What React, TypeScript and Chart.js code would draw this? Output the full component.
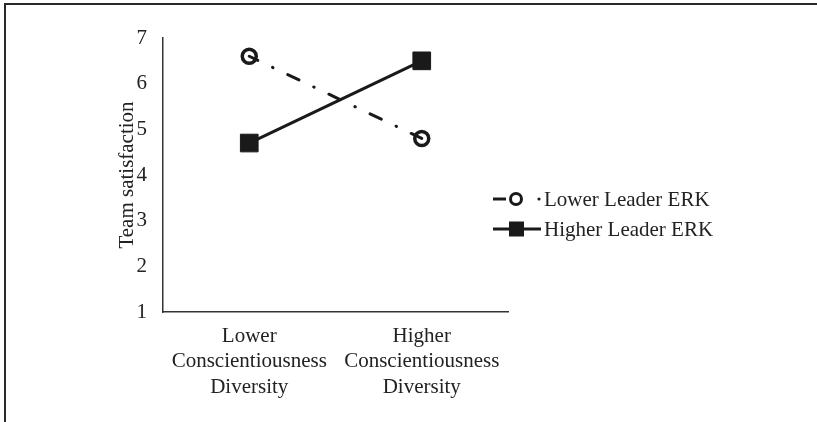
import React, { useEffect, useRef } from "react";
import { Chart, registerables } from "chart.js";

Chart.register(...registerables);

const categories: string[][] = [
  ["Lower", "Conscientiousness", "Diversity"],
  ["Higher", "Conscientiousness", "Diversity"],
];
const seriesNames: string[] = ["Lower Leader ERK", "Higher Leader ERK"];
const lowerLeaderERK: number[] = [6.6, 4.8];
const higherLeaderERK: number[] = [4.7, 6.5];
const yTickValues: number[] = [1, 2, 3, 4, 5, 6, 7];
const yAxisTitle = "Team satisfaction";

const FONT = "'Liberation Serif', 'Times New Roman', serif";
const INK = "#1a1a1a";
const TEXT = "#222222";

const legendPlugin = {
  id: "customLegend",
  afterDraw(chart: any) {
    const ctx: CanvasRenderingContext2D = chart.ctx;
    const ca = chart.chartArea;
    const x0 = ca.right - 15;
    const rows = [ca.top + 161, ca.top + 191];
    ctx.save();
    ctx.font = `21px ${FONT}`;
    ctx.textBaseline = "middle";
    ctx.textAlign = "left";
    // row 1: dash-dot with open circle
    let y = rows[0];
    ctx.strokeStyle = INK;
    ctx.lineWidth = 3;
    ctx.beginPath();
    ctx.moveTo(x0, y);
    ctx.lineTo(x0 + 13, y);
    ctx.stroke();
    ctx.beginPath();
    ctx.arc(x0 + 23, y, 5.5, 0, Math.PI * 2);
    ctx.fillStyle = "#ffffff";
    ctx.fill();
    ctx.stroke();
    ctx.fillStyle = INK;
    ctx.beginPath();
    ctx.arc(x0 + 46, y, 1.6, 0, Math.PI * 2);
    ctx.fill();
    ctx.fillStyle = TEXT;
    ctx.fillText(seriesNames[0], x0 + 51, y + 1);
    // row 2: solid with filled square
    y = rows[1];
    ctx.beginPath();
    ctx.moveTo(x0, y);
    ctx.lineTo(x0 + 48, y);
    ctx.stroke();
    ctx.fillStyle = INK;
    ctx.fillRect(x0 + 16, y - 7.5, 15, 15);
    ctx.fillStyle = TEXT;
    ctx.fillText(seriesNames[1], x0 + 51, y + 1);
    ctx.restore();
  },
};

export default function App() {
  const canvasRef = useRef<HTMLCanvasElement | null>(null);

  useEffect(() => {
    const canvas = canvasRef.current;
    if (!canvas) return;
    const chart = new Chart(canvas, {
      type: "line",
      data: {
        labels: categories as any,
        datasets: [
          {
            label: seriesNames[0],
            data: lowerLeaderERK,
            borderColor: INK,
            borderWidth: 3,
            borderCapStyle: "round",
            borderDash: [12.5, 16.3, 0.5, 16.3],
            borderDashOffset: 3,
            pointStyle: "circle",
            pointRadius: 7,
            pointBorderWidth: 3.5,
            pointBorderColor: INK,
            pointBackgroundColor: "rgba(0,0,0,0)",
            tension: 0,
            fill: false,
          },
          {
            label: seriesNames[1],
            data: higherLeaderERK,
            borderColor: INK,
            borderWidth: 3,
            pointStyle: "rect",
            pointRadius: 12.5,
            pointBorderWidth: 1,
            pointBorderColor: INK,
            pointBackgroundColor: INK,
            tension: 0,
            fill: false,
          },
        ],
      },
      options: {
        responsive: false,
        animation: false,
        layout: { padding: { left: 100, top: 38, right: 309, bottom: 0 } },
        plugins: {
          legend: { display: false },
          tooltip: { enabled: false },
        },
        scales: {
          x: {
            type: "category",
            offset: true,
            grid: { display: false, drawTicks: false },
            border: { display: true, color: "#333333", width: 1.5 },
            ticks: {
              color: TEXT,
              padding: 12,
              maxRotation: 0,
              autoSkip: false,
              font: { family: FONT, size: 21, lineHeight: 1.2 },
            },
            afterFit: (scale: any) => {
              scale.height = 110;
            },
          },
          y: {
            min: 1,
            max: 7,
            afterBuildTicks: (scale: any) => {
              scale.ticks = yTickValues.map((v) => ({ value: v }));
            },
            grid: { display: false, drawTicks: false },
            border: { display: true, color: "#333333", width: 1.5 },
            ticks: {
              color: TEXT,
              padding: 16,
              font: { family: FONT, size: 21 },
            },
            title: {
              display: true,
              text: yAxisTitle,
              color: TEXT,
              padding: { top: 15, bottom: 0 },
              font: { family: FONT, size: 21, lineHeight: 1.2 },
            },
            afterFit: (scale: any) => {
              scale.width = 63;
            },
          },
        },
      },
      plugins: [legendPlugin],
    });
    return () => chart.destroy();
  }, []);

  return (
    <div
      style={{
        position: "fixed",
        left: 0,
        top: 0,
        width: 817,
        height: 422,
        background: "#ffffff",
        overflow: "hidden",
      }}
    >
      <canvas ref={canvasRef} width={817} height={422} style={{ display: "block" }} />
      <div
        style={{
          position: "absolute",
          left: 4,
          top: 3,
          right: 0,
          bottom: 0,
          borderTop: "2px solid #2a2a2a",
          borderLeft: "2px solid #2a2a2a",
          pointerEvents: "none",
        }}
      />
    </div>
  );
}
